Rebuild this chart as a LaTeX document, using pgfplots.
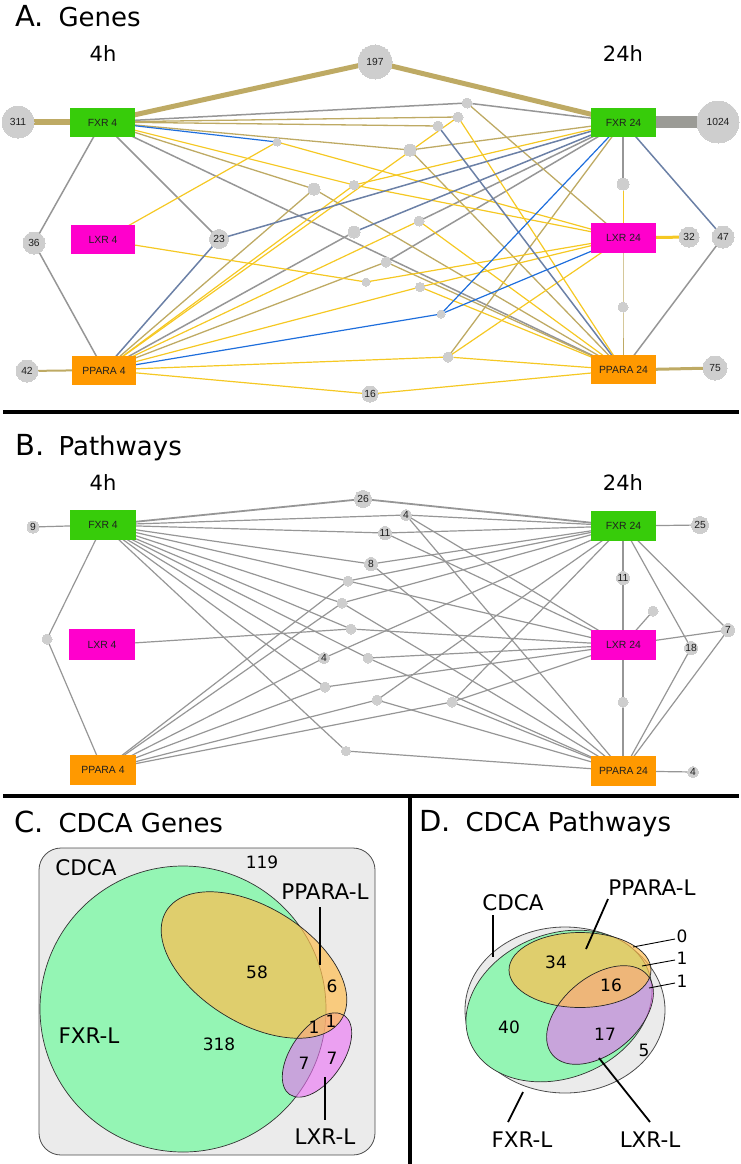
\documentclass[border=0pt]{standalone}
\usepackage{pgfplots}
\pgfplotsset{compat=1.18}
\usepackage{fontspec}
\setmainfont{DejaVu Sans}
\newfontfamily\arial{Liberation Sans}

\definecolor{fxrgreen}{RGB}{55,204,10}
\definecolor{lxrmag}{RGB}{255,0,204}
\definecolor{pparaorg}{RGB}{255,153,0}
\definecolor{circgray}{RGB}{206,206,206}
\definecolor{edgegray}{RGB}{150,150,150}
\definecolor{slate}{RGB}{107,128,166}
\definecolor{eblue}{RGB}{30,110,220}
\definecolor{khaki}{RGB}{190,170,100}
\definecolor{gold}{RGB}{245,200,35}
\definecolor{thickgray}{RGB}{155,155,150}
\definecolor{venngray}{RGB}{235,235,235}
\definecolor{venngreen}{RGB}{148,245,180}
\definecolor{vennorange}{RGB}{255,190,80}
\definecolor{vennpink}{RGB}{235,110,245}

\pgfplotsset{
  eg/.style={draw=edgegray, line width=1.5pt},
  es/.style={draw=slate, line width=1.5pt},
  eb/.style={draw=eblue, line width=1.2pt},
  ek/.style={draw=khaki, line width=1.3pt},
  ey/.style={draw=gold, line width=1.2pt},
  bg/.style={draw=edgegray, line width=1.2pt},
}
\newcommand{\E}[2]{\addplot[#1] coordinates {#2};}
\newcommand{\Bx}[5]{\addplot[fill=#1, draw=none] coordinates {(#2,#3) (#4,#3) (#4,#5) (#2,#5)} -- cycle;}
\newcommand{\BL}[3]{\node[font=\arial\fontsize{10.4}{12}\selectfont, text=black!88] at (axis cs:#1,#2) {#3};}
\newcommand{\VT}[4]{\node[font=\fontsize{#3}{#3}\selectfont] at (axis cs:#1,#2) {#4};}
% labelled bubble: x y radius label
\newcommand{\C}[4]{\addplot[color=circgray, only marks, mark=*, mark size=#3, mark options={draw=circgray, fill=circgray, line width=0pt},
   point meta=explicit symbolic, nodes near coords,
   nodes near coords style={anchor=center, font=\arial\fontsize{10.3}{12}\selectfont, text=black!88}]
   coordinates {(#1,#2) [#4]};}
% unlabelled bubble
\newcommand{\Cs}[3]{\addplot[color=circgray, only marks, mark=*, mark size=#3, mark options={draw=circgray, fill=circgray, line width=0pt}]
   coordinates {(#1,#2)};}

\begin{document}
\begin{tikzpicture}
\begin{axis}[at={(0,0)}, anchor=south west, x=1pt, y=1pt,
  xmin=0, xmax=741, ymin=0, ymax=1164, y dir=reverse,
  hide axis, clip=false]

% ---------------- Panel A edges ----------------
\E{draw=khaki, line width=6.5pt}{(18,122) (102,122)}
\E{draw=khaki, line width=5pt}{(102,122) (375,62) (623,122)}
\E{draw=thickgray, line width=12pt}{(623,122) (718,122)}
\E{draw=khaki, line width=3pt}{(623,370) (715,368)}
\E{draw=khaki, line width=2pt}{(27,371) (104,370)}
\E{draw=gold, line width=3pt}{(623,238) (689,237)}
% gray
\E{eg}{(102,122) (34,243) (104,370)}
\E{eg}{(102,122) (219,239)}
\E{eg}{(102,122) (467,103) (623,122)}
\E{eg}{(104,370) (354,232)}
\E{eg}{(419,221) (623,122)}
\E{eg}{(386,262) (623,122)}
\E{eg}{(623,122) (623,184)}
\E{eg}{(723,237) (623,370)}
\E{eg}{(102,122) (623,370)}
% khaki
\E{ek}{(102,122) (458,117)}
\E{ek}{(102,122) (438,126)}
\E{ek}{(102,122) (410,150) (623,122)}
\E{ek}{(410,150) (623,370)}
\E{ek}{(102,122) (314,189) (623,370)}
\E{ek}{(104,370) (314,189)}
\E{ek}{(467,103) (623,238)}
\E{ek}{(104,370) (386,262) (623,370)}
\E{ek}{(448,357) (623,122)}
\E{draw=khaki, line width=0.9pt}{(623,238) (623,307) (623,370)}
% gold
\E{ey}{(103,240) (277,142) (623,238)}
\E{ey}{(104,370) (354,185) (623,122)}
\E{ey}{(102,122) (354,185) (623,238)}
\E{ey}{(103,240) (366,282) (623,238)}
\E{ey}{(104,370) (458,117) (623,370)}
\E{ey}{(104,370) (419,221) (623,370)}
\E{ey}{(104,370) (420,287) (623,238)}
\E{ey}{(420,287) (623,370)}
\E{ey}{(104,370) (448,357) (623,238)}
\E{ey}{(448,357) (623,370)}
\E{ey}{(104,370) (370,394) (623,370)}
\E{draw=gold, line width=0.9pt}{(623,184) (623,238)}
% slate
\E{es}{(104,370) (219,239) (623,122)}
\E{es}{(354,232) (623,122)}
\E{es}{(438,126) (623,370)}
\E{es}{(623,122) (723,237)}
% blue
\E{eb}{(102,122) (277,142)}
\E{eb}{(104,370) (441,314) (623,122)}
\E{eb}{(441,314) (623,238)}

% bubbles A
\C{18}{122}{16}{311}
\C{375}{62}{17}{197}
\C{718}{122}{21}{1024}
\C{34}{243}{11}{36}
\C{219}{239}{9.5}{23}
\C{27}{371}{11}{42}
\C{370}{394}{8}{16}
\C{689}{237}{10}{32}
\C{723}{237}{11}{47}
\C{715}{368}{12}{75}
\Cs{277}{142}{4}
\Cs{314}{189}{6}
\Cs{354}{185}{4.5}
\Cs{354}{232}{6}
\Cs{366}{282}{4}
\Cs{467}{103}{5}
\Cs{458}{117}{5}
\Cs{438}{126}{5}
\Cs{410}{150}{6}
\Cs{623}{184}{6}
\Cs{419}{221}{5}
\Cs{386}{262}{5}
\Cs{420}{287}{4.5}
\Cs{441}{314}{4}
\Cs{448}{357}{5}
\Cs{623}{307}{5}

\Bx{fxrgreen}{70}{108}{135}{137}
\Bx{lxrmag}{71}{225}{135}{254}
\Bx{pparaorg}{72}{356}{136}{385}
\Bx{fxrgreen}{591}{108}{656}{137}
\Bx{lxrmag}{591}{223}{656}{253}
\Bx{pparaorg}{591}{355}{656}{384}
\BL{102.5}{122.5}{FXR 4}
\BL{103}{239.5}{LXR 4}
\BL{104}{370.5}{PPARA 4}
\BL{623.5}{122.5}{FXR 24}
\BL{623.5}{238}{LXR 24}
\BL{623.5}{369.5}{PPARA 24}

% ---------------- Panel B edges ----------------
\E{bg}{(33,527) (103,525)}
\E{bg}{(103,525) (47,639) (103,770)}
\E{draw=edgegray, line width=1.8pt}{(103,525) (363,499) (623,526)}
\E{bg}{(103,525) (406,515) (623,526)}
\E{bg}{(406,515) (623,645)}
\E{bg}{(406,515) (623,771)}
\E{bg}{(103,525) (385,533) (623,526)}
\E{bg}{(385,533) (623,645)}
\E{bg}{(103,525) (371,564) (623,526)}
\E{bg}{(371,564) (623,771)}
\E{bg}{(103,525) (348,581) (623,526)}
\E{bg}{(103,770) (348,581) (623,645)}
\E{bg}{(103,525) (342,603) (623,526)}
\E{bg}{(103,770) (342,603) (623,771)}
\E{bg}{(102,645) (351,629) (623,645)}
\E{bg}{(103,525) (351,629)}
\E{bg}{(103,525) (324,658) (623,526)}
\E{bg}{(103,770) (324,658)}
\E{bg}{(103,525) (368,658) (623,645)}
\E{bg}{(368,658) (623,771)}
\E{bg}{(103,525) (325,687) (623,645)}
\E{bg}{(103,770) (325,687)}
\E{bg}{(103,770) (377,700) (623,526)}
\E{bg}{(377,700) (623,771)}
\E{bg}{(103,770) (452,702) (623,526)}
\E{bg}{(452,702) (623,645)}
\E{bg}{(452,702) (623,771)}
\E{bg}{(103,525) (346,751) (623,771)}
\E{bg}{(623,526) (700,525)}
\E{bg}{(623,526) (623,578) (623,645)}
\E{bg}{(623,645) (653,611)}
\E{bg}{(623,645) (728,630) (623,771)}
\E{bg}{(623,526) (728,630)}
\E{bg}{(623,526) (691,648) (623,771)}
\E{bg}{(623,645) (623,702) (623,771)}
\E{bg}{(623,771) (693,772)}

% bubbles B
\C{33}{527}{6}{9}
\C{363}{499}{8.5}{26}
\C{406}{515}{5.5}{4}
\C{385}{533}{6.5}{11}
\C{371}{564}{6.5}{8}
\C{324}{658}{5.5}{4}
\C{700}{525}{8.5}{25}
\C{623}{578}{6.5}{11}
\C{728}{630}{6.5}{7}
\C{691}{648}{6.5}{18}
\C{693}{772}{5.5}{4}
\Cs{348}{581}{5}
\Cs{342}{603}{5}
\Cs{351}{629}{5}
\Cs{368}{658}{5}
\Cs{325}{687}{5}
\Cs{377}{700}{5}
\Cs{452}{702}{5}
\Cs{346}{751}{4.5}
\Cs{47}{639}{5}
\Cs{653}{611}{5}
\Cs{623}{702}{5}

\Bx{fxrgreen}{70}{510}{136}{540}
\Bx{lxrmag}{69}{629}{135}{660}
\Bx{pparaorg}{70}{755}{136}{785}
\Bx{fxrgreen}{591}{511}{656}{541}
\Bx{lxrmag}{591}{630}{656}{660}
\Bx{pparaorg}{591}{756}{656}{786}
\BL{103}{525}{FXR 4}
\BL{102}{644.5}{LXR 4}
\BL{103}{770}{PPARA 4}
\BL{623.5}{526}{FXR 24}
\BL{623.5}{645}{LXR 24}
\BL{623.5}{771}{PPARA 24}

% ---------------- separators ----------------
\E{draw=black, line width=3.5pt}{(3,412) (739,412)}
\E{draw=black, line width=3.5pt}{(3,796) (739,796)}
\E{draw=black, line width=3.5pt}{(410,796) (410,1164)}

% ---------------- titles ----------------
\node[anchor=base west, font=\fontsize{29}{29}\selectfont] at (axis cs:12,27) {A.};
\node[anchor=base west, font=\fontsize{26}{26}\selectfont] at (axis cs:55,27) {Genes};
\node[anchor=base west, font=\fontsize{29}{29}\selectfont] at (axis cs:12,455) {B.};
\node[anchor=base west, font=\fontsize{26}{26}\selectfont] at (axis cs:55,455) {Pathways};
\node[anchor=base west, font=\fontsize{29}{29}\selectfont] at (axis cs:11,832) {C.};
\node[anchor=base west, font=\fontsize{26}{26}\selectfont] at (axis cs:55,832) {CDCA Genes};
\node[anchor=base west, font=\fontsize{29}{29}\selectfont] at (axis cs:416,831) {D.};
\node[anchor=base west, font=\fontsize{26}{26}\selectfont] at (axis cs:462,831) {CDCA Pathways};
\VT{103}{54}{21}{4h}
\VT{623}{54}{21}{24h}
\VT{103}{483}{21}{4h}
\VT{623}{483}{21}{24h}

% ---------------- Venn C ----------------
\filldraw[fill=venngray, draw=black!70, line width=0.8pt, rounded corners=22pt] (axis cs:39,848) rectangle (axis cs:375,1155);
\filldraw[fill=venngreen, draw=black!80, line width=0.7pt] (axis cs:183,1009) circle [radius=143pt];
\fill[vennpink, fill opacity=0.6] (axis cs:317,1055) ellipse [x radius=48pt, y radius=26pt, rotate=55.3];
\fill[vennorange, fill opacity=0.7] (axis cs:254,965) ellipse [x radius=103pt, y radius=58pt, rotate=-31.7];
\draw[black!85, line width=0.7pt] (axis cs:317,1055) ellipse [x radius=48pt, y radius=26pt, rotate=55.3];
\draw[black!85, line width=0.7pt] (axis cs:254,965) ellipse [x radius=103pt, y radius=58pt, rotate=-31.7];
\E{draw=black, line width=1.6pt}{(320,907) (320,965)}
\E{draw=black, line width=1.6pt}{(325,1077) (325,1120)}
\VT{86}{868}{21.5}{CDCA}
\VT{262}{862}{17}{119}
\VT{325}{892}{21.5}{PPARA-L}
\VT{257}{972}{17}{58}
\VT{332}{986}{17}{6}
\VT{314}{1027}{17}{1}
\VT{331}{1021}{17}{1}
\VT{219}{1044}{17}{318}
\VT{304}{1063}{17}{7}
\VT{332}{1058}{17}{7}
\VT{89}{1036}{21.5}{FXR-L}
\VT{325}{1137}{21.5}{LXR-L}

% ---------------- Venn D ----------------
\filldraw[fill=venngray, draw=black!70, line width=0.8pt] (axis cs:565,1010) ellipse [x radius=100pt, y radius=83pt];
\filldraw[fill=venngreen, draw=black!80, line width=0.7pt] (axis cs:559,1006) ellipse [x radius=96pt, y radius=72pt, rotate=22];
\fill[vennpink, fill opacity=0.6] (axis cs:600,1015) ellipse [x radius=62pt, y radius=38pt, rotate=40];
\fill[vennorange, fill opacity=0.7] (axis cs:580,970) ellipse [x radius=71pt, y radius=37.5pt];
\draw[black!85, line width=0.7pt] (axis cs:600,1015) ellipse [x radius=62pt, y radius=38pt, rotate=40];
\draw[black!85, line width=0.7pt] (axis cs:580,970) ellipse [x radius=71pt, y radius=37.5pt];
\E{draw=black, line width=1.8pt}{(493,915) (493,957)}
\E{draw=black, line width=1.8pt}{(608,899) (586,949)}
\E{draw=black, line width=1.8pt}{(508,1122) (523,1092)}
\E{draw=black, line width=1.8pt}{(650,1122) (599,1058)}
\E{draw=black, line width=0.9pt}{(675,939) (633,947)}
\E{draw=black, line width=0.9pt}{(675,960) (642,966)}
\E{draw=black, line width=0.9pt}{(675,983) (649,988)}
\VT{513}{903}{21.5}{CDCA}
\VT{652}{888}{21.5}{PPARA-L}
\VT{682}{936}{17}{0}
\VT{682}{958}{17}{1}
\VT{682}{981}{17}{1}
\VT{556}{962}{17}{34}
\VT{611}{985}{17}{16}
\VT{509}{1027}{17}{40}
\VT{605}{1034}{17}{17}
\VT{644}{1050}{17}{5}
\VT{522}{1140}{21.5}{FXR-L}
\VT{650}{1140}{21.5}{LXR-L}

\end{axis}
\pgfresetboundingbox
\path (0,0) rectangle (741pt,1164pt);
\end{tikzpicture}
\end{document}
